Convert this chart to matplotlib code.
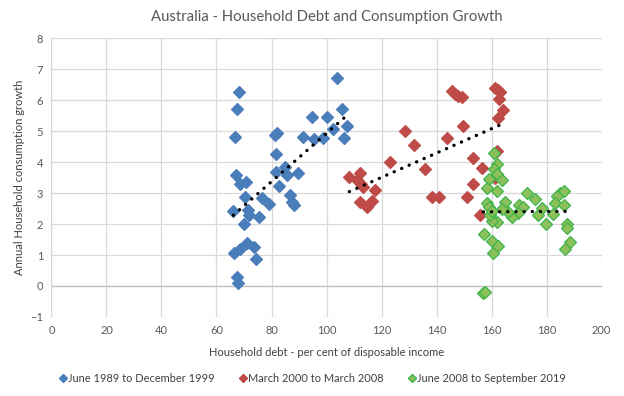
import numpy as np
import matplotlib
matplotlib.use("Agg")
import matplotlib.pyplot as plt
from matplotlib.lines import Line2D

plt.rcParams['font.family'] = ['Lato', 'DejaVu Sans']

title = "Australia - Household Debt and Consumption Growth"
xlabel = "Household debt - per cent of disposable income"
ylabel = "Annual Household consumption growth"
series_names = ["June 1989 to December 1999", "March 2000 to March 2008", "June 2008 to September 2019"]

blue_x = [68.3, 67.3, 66.8, 81.3, 82.0, 81.5, 67.1, 68.5, 70.7, 81.5, 84.9, 85.6, 82.8, 86.6, 70.4,
          76.4, 79.2, 66.1, 71.3, 71.9, 75.6, 70.0, 71.0, 68.5, 66.5, 73.6, 74.2, 67.6, 67.9, 103.7,
          105.6, 94.8, 100.0, 107.6, 102.5, 91.3, 95.5, 98.8, 106.5, 89.7, 87.6, 88.0]
blue_y = [6.25, 5.70, 4.80, 4.87, 4.95, 4.25, 3.58, 3.30, 3.35, 3.69, 3.85, 3.58, 3.24, 2.95, 2.86,
          2.83, 2.63, 2.43, 2.45, 2.29, 2.24, 2.00, 1.40, 1.18, 1.07, 1.27, 0.86, 0.28, 0.11, 6.70,
          5.70, 5.45, 5.45, 5.16, 5.05, 4.82, 4.73, 4.76, 4.76, 3.63, 2.72, 2.62]

red_x = [108.3, 112.2, 111.2, 112.6, 113.1, 117.7, 112.2, 116.5, 114.8, 123.1, 128.5, 131.7, 135.9,
         138.5, 140.8, 145.6, 146.7, 147.9, 149.2, 161.3, 162.3, 163.1, 162.7, 164.3, 162.5, 149.5,
         143.9, 153.3, 162.0, 156.7, 153.4, 151.0, 155.8, 161.3]
red_y = [3.52, 3.64, 3.42, 3.30, 3.18, 3.10, 2.70, 2.75, 2.54, 3.99, 5.00, 4.55, 3.76,
         2.88, 2.86, 6.29, 6.21, 6.14, 6.09, 6.40, 6.32, 6.27, 6.03, 5.68, 5.41, 5.15,
         4.77, 4.13, 4.37, 3.80, 3.28, 2.88, 2.29, 3.50]

green_x = [161.0, 162.0, 160.9, 162.0, 159.2, 163.9, 158.5, 162.1, 173.0, 175.8, 185.0, 186.2, 183.8,
           183.1, 186.2, 178.4, 177.0, 182.5, 179.9, 187.4, 187.4, 188.4, 186.6, 170.1, 171.6, 169.8,
           167.3, 166.1, 164.9, 163.7, 162.1, 160.1, 158.5, 159.2, 159.3, 160.1, 157.3, 160.1, 162.5,
           160.6, 157.0, 157.6]
green_y = [4.28, 3.95, 3.78, 3.61, 3.44, 3.41, 3.15, 3.05, 3.01, 2.80, 3.00, 3.06, 2.90,
           2.67, 2.62, 2.52, 2.29, 2.32, 2.00, 2.00, 1.86, 1.43, 1.19, 2.60, 2.55, 2.34,
           2.21, 2.38, 2.71, 2.48, 2.05, 2.10, 2.69, 2.55, 2.30, 2.42, 1.69, 1.44, 1.28,
           1.06, -0.22, -0.20]

fill_colors = ["#4A7EBB", "#BE4B48", "#8DBF5A"]
edge_colors = ["#4A7EBB", "#BE4B48", "#3DB54A"]

fig = plt.figure(figsize=(6.24, 3.96), dpi=100)
ax = fig.add_axes([0.0825, 0.1995, 0.8815, 0.7045])

data = [(blue_x, blue_y), (red_x, red_y), (green_x, green_y)]
for (xs, ys), fc, ec in zip(data, fill_colors, edge_colors):
    ax.plot(xs, ys, linestyle='none', marker='D', markersize=6.3,
            markerfacecolor=fc, markeredgecolor=ec, markeredgewidth=0.9, zorder=3)

for xs, ys in data:
    xa = np.array(xs); ya = np.array(ys)
    k, b = np.polyfit(xa, ya, 1)
    xl = np.array([xa.min(), xa.max()])
    ax.plot(xl, k * xl + b, color='black', linewidth=2.4,
            linestyle=(0, (0.05, 2.4)), dash_capstyle='round', zorder=4)

ax.set_xlim(0, 200)
ax.set_ylim(-1, 8)
ax.set_xticks(np.arange(0, 201, 20))
ax.set_yticks(np.arange(-1, 9, 1))
ax.grid(True, color='#D9D9D9', linewidth=0.9)
ax.set_axisbelow(True)
for s in ax.spines.values():
    s.set_visible(False)
ax.axhline(0, color='#BFBFBF', linewidth=0.9, zorder=1)
ax.axvline(0, color='#D9D9D9', linewidth=0.9, zorder=1)
ax.tick_params(length=0, labelsize=8, labelcolor='#595959', pad=6)

ax.set_title(title, fontsize=10.7, color='#595959', pad=12)
ax.set_xlabel(xlabel, fontsize=8, color='#404040', labelpad=8)
ax.set_ylabel(ylabel, fontsize=8, color='#404040', labelpad=4)

handles = [Line2D([], [], linestyle='none', marker='D', markersize=4,
                  markerfacecolor=fc, markeredgecolor=ec)
           for fc, ec in zip(fill_colors, edge_colors)]
fig.legend(handles, series_names, loc='center', bbox_to_anchor=(0.5, 0.045),
           ncol=3, frameon=False, fontsize=7.9, handletextpad=0.05, columnspacing=2.2,
           handlelength=0.8, labelcolor='#404040')

fig.savefig("out.png", dpi=100)
